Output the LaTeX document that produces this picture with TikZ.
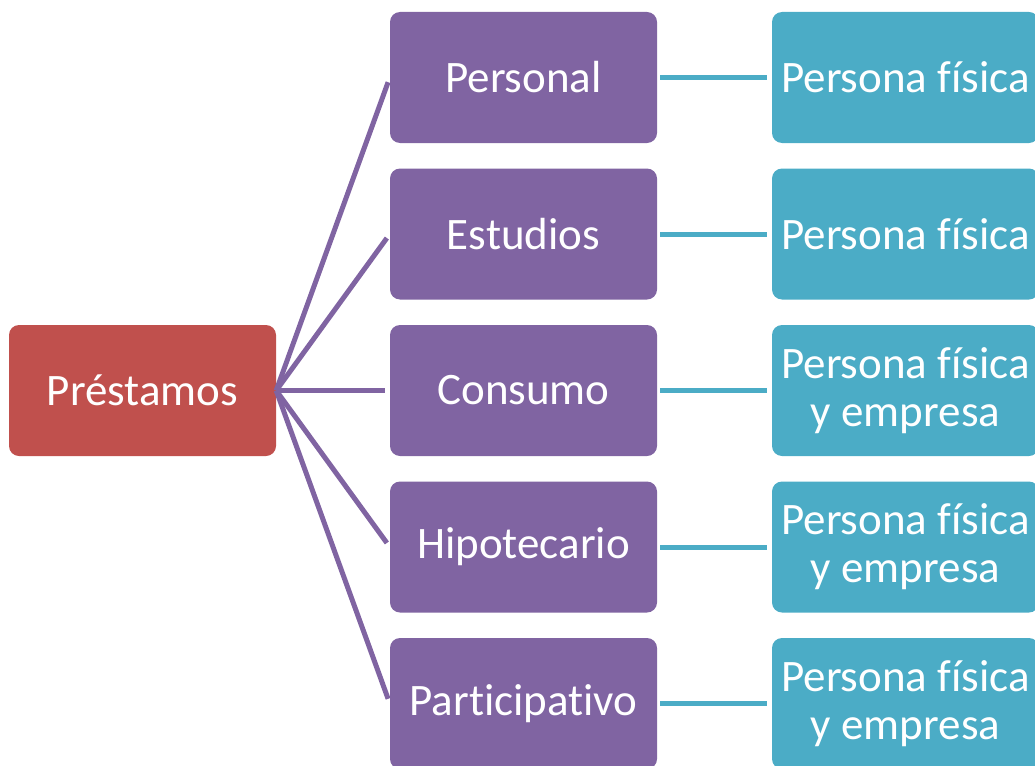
\documentclass[tikz,border=0pt]{standalone}
\usepackage{fontspec}
\setmainfont[Ligatures=NoCommon]{Carlito}
\definecolor{rojo}{HTML}{C0504D}
\definecolor{morado}{HTML}{8064A2}
\definecolor{turq}{HTML}{4BACC6}

\begin{document}
\begin{tikzpicture}[x=1pt,y=-1pt]
\tikzstyle{every node}=[minimum width=267pt, minimum height=131pt, inner sep=0pt, rounded corners=10pt, text=white, align=center, font=\fontsize{45}{48}\selectfont]
\tikzstyle{rama}=[morado, line width=5pt, shorten >=5pt]
\tikzstyle{hoja}=[turq, line width=5pt, shorten <=3pt, shorten >=5pt]
\clip (0,0) rectangle (1035,765);
\draw (142.5,390.5) node (pr) [fill=rojo] {Préstamos};
\draw (523.5,77.5) node (t1) [fill=morado] {Personal};
\draw (523.5,234) node (t2) [fill=morado] {Estudios};
\draw (523.5,390.5) node (t3) [fill=morado] {Consumo};
\draw (523.5,547) node (t4) [fill=morado] {Hipotecario};
\draw (523.5,703.5) node (t5) [fill=morado] {Participativo};
\draw (905.5,77.5) node (c1) [fill=turq] {Persona física};
\draw (905.5,234) node (c2) [fill=turq] {Persona física};
\draw (905.5,390.5) node (c3) [fill=turq] {Persona física\\y empresa};
\draw (905.5,547) node (c4) [fill=turq] {Persona física\\y empresa};
\draw (905.5,703.5) node (c5) [fill=turq] {Persona física\\y empresa};
\draw[rama] (pr.east) -- (t1.west);
\draw[rama] (pr.east) -- (t2.west);
\draw[rama] (pr.east) -- (t3.west);
\draw[rama] (pr.east) -- (t4.west);
\draw[rama] (pr.east) -- (t5.west);
\draw[hoja] (t1.east) -- (c1.west);
\draw[hoja] (t2.east) -- (c2.west);
\draw[hoja] (t3.east) -- (c3.west);
\draw[hoja] (t4.east) -- (c4.west);
\draw[hoja] (t5.east) -- (c5.west);
\end{tikzpicture}
\end{document}
